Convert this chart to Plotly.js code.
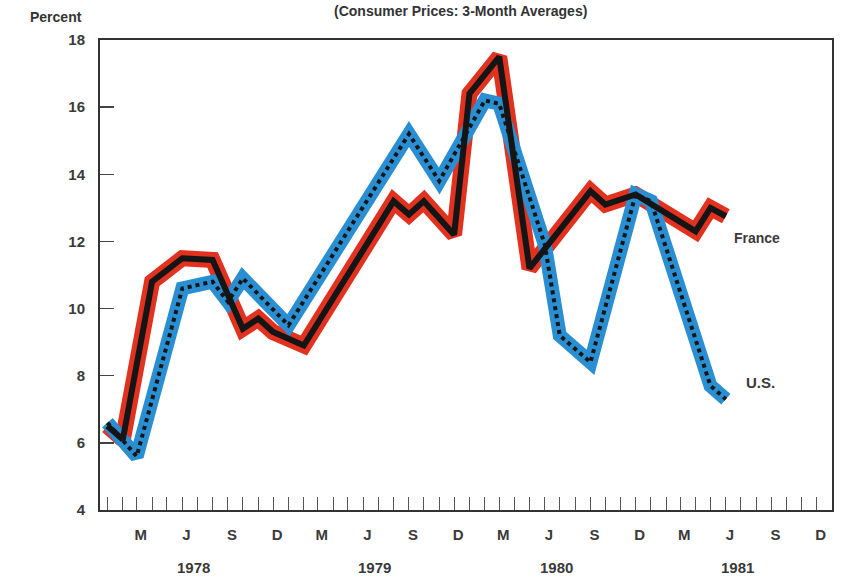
<!DOCTYPE html>
<html>
<head>
<meta charset="utf-8">
<script src="https://cdn.plot.ly/plotly-3.0.1.min.js"></script>
<style>html,body{margin:0;padding:0;background:#fff;}#chart{width:841px;height:578px;}</style>
</head>
<body>
<div id="chart"></div>
<script>
// France: vertices (date, percent)
const franceDates = ['1978-01-01','1978-02-01','1978-04-01','1978-06-01','1978-08-01','1978-10-01','1978-11-01','1978-12-01','1979-02-01','1979-08-01','1979-09-01','1979-10-01','1979-12-01','1980-01-01','1980-03-01','1980-04-01','1980-05-01','1980-09-01','1980-10-01','1980-12-01','1981-04-01','1981-05-01','1981-06-01'];
const franceValues = [6.5, 6.1, 10.8, 11.5, 11.45, 9.4, 9.7, 9.3, 8.9, 13.2, 12.8, 13.2, 12.2, 16.4, 17.5, 14.3, 11.2, 13.5, 13.1, 13.4, 12.3, 13.0, 12.75];
// U.S.
const usDates = ['1978-01-01','1978-03-01','1978-06-01','1978-08-01','1978-09-01','1978-10-01','1979-01-01','1979-09-01','1979-11-01','1980-02-01','1980-03-01','1980-06-01','1980-07-01','1980-09-01','1980-12-01','1981-01-01','1981-05-01','1981-06-01'];
const usValues = [6.6, 5.6, 10.6, 10.8, 10.2, 10.9, 9.5, 15.2, 13.8, 16.2, 16.1, 11.9, 9.2, 8.4, 13.4, 13.2, 7.7, 7.3];
// axis labels
const monthTickDates = [];
const monthTickText = [];
const years = ['1978','1979','1980','1981'];
const monthLetters = {3:'M',6:'J',9:'S',12:'D'};
years.forEach(y => { [3,6,9,12].forEach(m => { monthTickDates.push(y + '-' + String(m).padStart(2,'0') + '-01'); monthTickText.push(monthLetters[m]); }); });
const yTicks = [4,6,8,10,12,14,16,18];

const RED = '#e2321f', BLUE = '#2a8fd2', BLACK = '#151515';
const traces = [
  {x: franceDates, y: franceValues, mode:'lines', line:{color:RED, width:16}, hoverinfo:'skip'},
  {x: usDates, y: usValues, mode:'lines', line:{color:BLUE, width:14}, hoverinfo:'skip'},
  {x: franceDates, y: franceValues, mode:'lines', line:{color:BLACK, width:6}, hoverinfo:'skip'},
  {x: usDates, y: usValues, mode:'lines', line:{color:BLACK, width:4, dash:'4px,4px'}, hoverinfo:'skip'}
];
const annotations = [
  {text:'<b>(Consumer Prices: 3-Month Averages)</b>', xref:'paper', yref:'paper', x:(460-100)/732, y:(510-1)/470, xanchor:'center', yanchor:'top', showarrow:false, font:{family:'Liberation Sans, Arial, sans-serif', size:14, color:'#333'}},
  {text:'<b>Percent</b>', xref:'paper', yref:'paper', x:(84-100)/732, y:(510-17)/470, xanchor:'right', yanchor:'middle', showarrow:false, font:{family:'Liberation Sans, Arial, sans-serif', size:14, color:'#333'}},
  {text:'<b>France</b>', xref:'paper', yref:'paper', x:(732-100)/732, y:(510-238)/470, xanchor:'left', yanchor:'middle', showarrow:false, font:{family:'Liberation Sans, Arial, sans-serif', size:14, color:'#3a3a3a'}},
  {text:'<b>U.S.</b>', xref:'paper', yref:'paper', x:(744-100)/732, y:(510-382)/470, xanchor:'left', yanchor:'middle', showarrow:false, font:{family:'Liberation Sans, Arial, sans-serif', size:15, color:'#3a3a3a'}}
];
years.forEach(y => annotations.push({text:'<b>'+y+'</b>', xref:'x', yref:'paper', x: y + '-06-24', y:(510-567)/470, xanchor:'center', yanchor:'middle', showarrow:false, font:{family:'Liberation Sans, Arial, sans-serif', size:15, color:'#3a3a3a'}}));

const layout = {
  width:841, height:578,
  margin:{l:100, r:9, t:40, b:68},
  paper_bgcolor:'#fff', plot_bgcolor:'#fff',
  showlegend:false,
  xaxis:{type:'date', range:['1977-12-17','1982-01-01'], tickmode:'array', tickvals:monthTickDates, ticktext:monthTickText,
    ticks:'inside', ticklen:13, tickwidth:1, tickcolor:'#555', showgrid:false, zeroline:false,
    showline:true, linecolor:'#333', linewidth:2, mirror:true, ticklabelstandoff:10, ticklabelshift:4,
    tickfont:{family:'Liberation Sans, Arial, sans-serif', size:15, color:'#3a3a3a', weight:'bold'},
    minor:{dtick:'M1', tick0:'1978-01-01', ticks:'inside', ticklen:13, tickwidth:1, tickcolor:'#555', showgrid:false}},
  yaxis:{range:[4,18], tickmode:'array', tickvals:yTicks, ticktext:yTicks.map(String), ticks:'inside', ticklen:14, tickwidth:1.5, tickcolor:'#444',
    showgrid:false, zeroline:false, showline:true, linecolor:'#333', linewidth:2, mirror:true, ticklabelstandoff:10,
    tickfont:{family:'Liberation Sans, Arial, sans-serif', size:15, color:'#3a3a3a', weight:'bold'}},
  annotations: annotations
};
Plotly.newPlot('chart', traces, layout, {staticPlot:true});
</script>
</body>
</html>
